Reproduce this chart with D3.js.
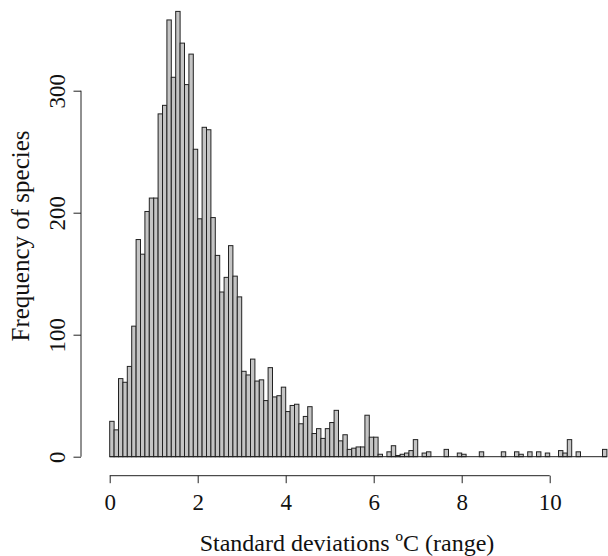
<!DOCTYPE html>
<html>
<head>
<meta charset="utf-8">
<script src="https://cdn.jsdelivr.net/npm/d3@7"></script>
<style>
  html, body { margin: 0; padding: 0; background: #fff; }
  svg { display: block; }
  text { font-family: "Liberation Serif", "Times New Roman", serif; fill: #111; }
</style>
</head>
<body>
<svg id="chart" width="608" height="556"></svg>
<script>
// histogram bins, width 0.1, starting at 0
const BIN_WIDTH = 0.1;
const counts = [
  29, 22, 64, 61, 74, 107, 178, 166, 201, 212,
  212, 281, 288, 358, 311, 365, 339, 305, 330, 252,
  195, 270, 268, 196, 165, 135, 147, 173, 148, 131,
  70, 67, 80, 62, 63, 46, 73, 49, 50, 57,
  37, 42, 43, 27, 33, 41, 19, 23, 15, 23,
  28, 38, 13, 18, 6, 7, 8, 8, 34, 16,
  16, 2, 0, 4, 9, 1, 2, 3, 5, 14,
  0, 3, 4, 0, 0, 0, 6, 0, 0, 3,
  2, 0, 0, 0, 4, 0, 0, 0, 0, 4,
  0, 0, 4, 2, 0, 4, 0, 4, 0, 3,
  0, 0, 5, 3, 14, 0, 4, 0, 0, 0,
  0, 0, 6
];
const xTicks = [0, 2, 4, 6, 8, 10];
const yTicks = [0, 100, 200, 300];
const xLabel = "Standard deviations \u00baC (range)";
const yLabel = "Frequency of species";

const bins = counts.map((c, i) => ({ x0: i * BIN_WIDTH, x1: (i + 1) * BIN_WIDTH, n: c }));

const svg = d3.select("#chart");

// Scales
const x = d3.scaleLinear().domain([0, 10]).range([109.7, 549.7]);
const y = d3.scaleLinear().domain([0, 300]).range([456.7, 90.7]);

// Bars
svg.append("g")
  .selectAll("rect")
  .data(bins.filter(d => d.n > 0))
  .enter()
  .append("rect")
  .attr("x", d => x(d.x0))
  .attr("y", d => y(d.n))
  .attr("width", d => x(d.x1) - x(d.x0))
  .attr("height", d => y(0) - y(d.n))
  .attr("fill", "#c4c4c4")
  .attr("stroke", "#222")
  .attr("stroke-width", 1);

// empty bins still show as a flat line on the baseline
svg.append("line")
  .attr("x1", x(0))
  .attr("x2", x(bins[bins.length - 1].x1))
  .attr("y1", y(0))
  .attr("y2", y(0))
  .attr("stroke", "#222")
  .attr("stroke-width", 1);

// X axis (R style: detached from the plot)
const xAxis = d3.axisBottom(x)
  .tickValues(xTicks)
  .tickSize(7.5)
  .tickPadding(10)
  .tickSizeOuter(0)
  .tickFormat(d3.format("d"));

const gx = svg.append("g")
  .attr("transform", "translate(0,475.7)")
  .call(xAxis);
gx.select(".domain")
  .attr("d", `M${x(0)},0H${x(10)}`)
  .attr("stroke", "#222");
gx.selectAll(".tick line").attr("stroke", "#222");
gx.selectAll(".tick text")
  .attr("font-size", 23)
  .style("font-family", "'Liberation Serif', serif")
  .attr("fill", "#111");

// Y axis
const yAxis = d3.axisLeft(y)
  .tickValues(yTicks)
  .tickSize(7.5)
  .tickSizeOuter(0);

const gy = svg.append("g")
  .attr("transform", "translate(81,0)")
  .call(yAxis);
gy.select(".domain")
  .attr("d", `M0,${y(0)}V${y(300)}`)
  .attr("stroke", "#222");
gy.selectAll(".tick line").attr("stroke", "#222");
gy.selectAll(".tick text")
  .attr("x", null).attr("dy", null)
  .attr("transform", "translate(-16,0) rotate(-90)")
  .attr("text-anchor", "middle")
  .attr("font-size", 23)
  .style("font-family", "'Liberation Serif', serif")
  .attr("fill", "#111");

// Axis titles
svg.append("text")
  .attr("x", 347)
  .attr("y", 550.5)
  .attr("text-anchor", "middle")
  .attr("font-size", 24)
  .text(xLabel);

svg.append("text")
  .attr("transform", "translate(29,236) rotate(-90)")
  .attr("text-anchor", "middle")
  .attr("font-size", 25)
  .text(yLabel);
</script>
</body>
</html>
